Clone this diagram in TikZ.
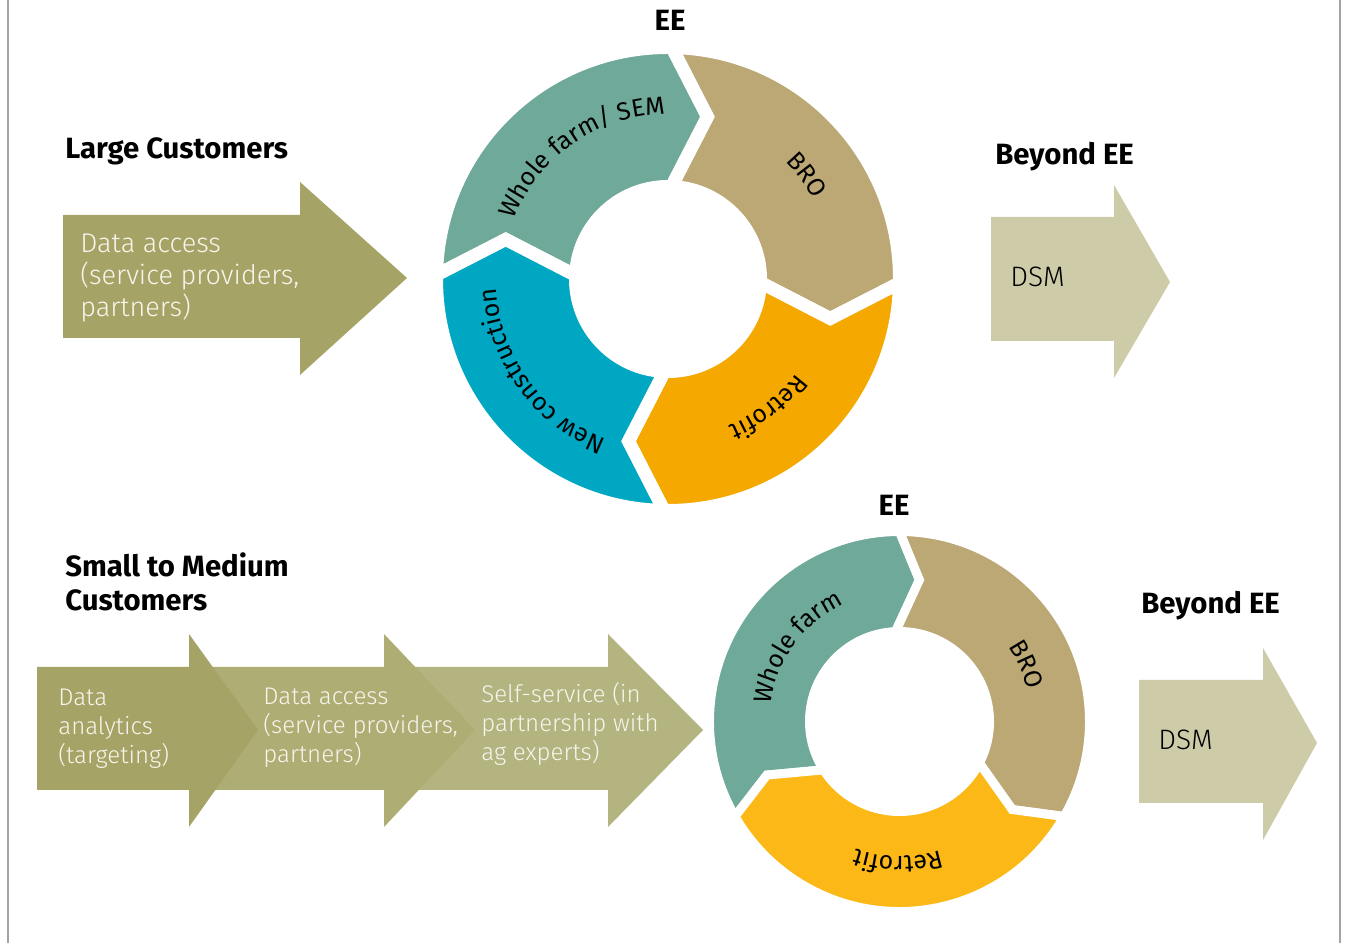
\documentclass[tikz,border=0pt]{standalone}
\usepackage{fontspec}
\setmainfont{Fira Sans}
\newfontfamily\lightfont{Fira Sans Light}
\usetikzlibrary{decorations.text}
\definecolor{bordergray}{HTML}{A3A3A3}
\definecolor{olA}{HTML}{A5A466}
\definecolor{olB}{HTML}{ADAD74}
\definecolor{olC}{HTML}{B3B47F}
\definecolor{beige}{HTML}{CECBA9}
\definecolor{rgreen}{HTML}{6FA999}
\definecolor{rtan}{HTML}{BBA874}
\definecolor{rorange}{HTML}{F5A800}
\definecolor{rblue}{HTML}{00A7C2}
\definecolor{ryellow}{HTML}{FBB817}
\definecolor{offwhite}{HTML}{F7F5EC}
\newcommand\ringfont{\fontsize{14.2}{14.2}\selectfont}
\tikzset{
  seg/.style n args={7}{insert path={(#1:#3) arc[start angle=#1,end angle=#2,radius=#3]
     -- ({#2-(#6)}:#5) -- ({#2+(#7)}:#4)
     arc[start angle={#2+(#7)},end angle={#1+(#7)},radius=#4]
     -- ({#1-(#6)}:#5) -- cycle}},
  heading/.style={font=\fontsize{16.7}{19}\selectfont\bfseries, inner sep=0, anchor=base west},
  arrowtext/.style={font=\lightfont\fontsize{15.4}{17.6}\selectfont, text=offwhite, inner sep=0, anchor=base west},
  smalltext/.style={font=\lightfont\fontsize{13.7}{16.4}\selectfont, text=offwhite, inner sep=0, anchor=base west},
  dsmtext/.style={font=\lightfont\fontsize{16}{18}\selectfont, text=black, inner sep=0, anchor=base west},
  bigseg/.style={fill=#1, draw=white, line width=0.26cm},
  smallseg/.style={fill=#1, draw=white, line width=0.18cm},
}
\begin{document}
\begin{tikzpicture}[x=0.02cm,y=0.02cm]
\useasboundingbox (0,0) rectangle (1348,943);
\fill[white] (0,0) rectangle (1348,943);
\draw[bordergray, line width=0.04cm] (8,0) -- (8,943);
\draw[bordergray, line width=0.04cm] (1340,0) -- (1340,943);

% ---------- Large customers ----------
\node[heading] (lc) at (65,784) {Large Customers};
\fill[olA] (63,605) -- (300,605) -- (300,568) -- (407,665) -- (300,761) -- (300,728) -- (63,728) -- cycle;
\node[arrowtext] (lda) at (80,690) {\begin{tabular}[t]{@{}l@{}}Data access\\(service providers,\\partners)\end{tabular}};

% ---------- Big ring ----------
\node[heading, anchor=base] (ee1) at (670,912) {EE};
\begin{scope}[shift={(668,664)}]
  \path[bigseg=rgreen, seg={179}{89}{231.5}{92.5}{167}{12.7}{-1.2}];
  \path[bigseg=rtan, seg={89}{-1}{231.5}{92.5}{167}{12.7}{-1.2}];
  \path[bigseg=rorange, seg={-1}{-91}{231.5}{92.5}{167}{12.7}{-1.2}];
  \path[bigseg=rblue, seg={269}{179}{231.5}{92.5}{167}{12.7}{-1.2}];
  \path[decorate, decoration={text along path, text align=center, text={|\ringfont|Whole farm/ SEM}}]
     (185:165) arc[start angle=185, end angle=65, radius=165];
  \path[decorate, decoration={text along path, text align=center, text={|\ringfont|BRO}}]
     (87:166) arc[start angle=87, end angle=-13, radius=166];
  \path[decorate, decoration={text along path, text align=center, text={|\ringfont|Retrofit}}]
     (-2:159) arc[start angle=-2, end angle=-102, radius=159];
  \path[decorate, decoration={text along path, text align=center, text={|\ringfont|New construction}}]
     (276:172) arc[start angle=276, end angle=156, radius=172];
\end{scope}

% ---------- Beyond EE (top) ----------
\node[heading] (bee1) at (995,778) {Beyond EE};
\fill[beige] (991,602) -- (1114,602) -- (1114,565) -- (1170,661) -- (1114,758) -- (1114,726) -- (991,726) -- cycle;
\node[dsmtext] (dsm1) at (1010,656) {DSM};

% ---------- Small to medium ----------
\node[heading] (smc) at (65,366) {\begin{tabular}[t]{@{}l@{}}Small to Medium\\Customers\end{tabular}};
\fill[olC] (384,153) -- (608,153) -- (608,116) -- (703,213) -- (608,309) -- (608,276) -- (384,276) -- cycle;
\fill[olB] (189,153) -- (384,153) -- (384,116) -- (475,213) -- (384,309) -- (384,276) -- (189,276) -- cycle;
\fill[olA] (37,153) -- (189,153) -- (189,116) -- (258,213) -- (189,309) -- (189,276) -- (37,276) -- cycle;
\node[smalltext] (sda) at (58,237) {\begin{tabular}[t]{@{}l@{}}Data\\analytics\\(targeting)\end{tabular}};
\node[smalltext] (sdb) at (263,238) {\begin{tabular}[t]{@{}l@{}}Data access\\(service providers,\\partners)\end{tabular}};
\node[smalltext] (sdc) at (481,240) {\begin{tabular}[t]{@{}l@{}}Self-service (in\\partnership with\\ag experts)\end{tabular}};

% ---------- Small ring ----------
\node[heading, anchor=base] (ee2) at (894,427) {EE};
\begin{scope}[shift={(899.5,221.5)}]
  \path[smallseg=rgreen, seg={210}{90}{190}{90}{143}{8}{2.5}];
  \path[smallseg=rtan, seg={90}{-30}{190}{90}{143}{8}{2.5}];
  \path[smallseg=ryellow, seg={-30}{-150}{190}{90}{143}{8}{2.5}];
  \path[decorate, decoration={text along path, text align=center, text={|\ringfont|Whole farm}}]
     (204:130) arc[start angle=204, end angle=84, radius=130];
  \path[decorate, decoration={text along path, text align=center, text={|\ringfont|BRO}}]
     (84:132) arc[start angle=84, end angle=-36, radius=132];
  \path[decorate, decoration={text along path, text align=center, text={|\ringfont|Retrofit}}]
     (-30.6:135) arc[start angle=-30.6, end angle=-150.6, radius=135];
\end{scope}

% ---------- Beyond EE (bottom) ----------
\node[heading] (bee2) at (1141,329) {Beyond EE};
\fill[beige] (1139,140) -- (1263,140) -- (1263,103) -- (1317,200) -- (1263,295) -- (1263,263) -- (1139,263) -- cycle;
\node[dsmtext] (dsm2) at (1158,193) {DSM};
\end{tikzpicture}
\end{document}
